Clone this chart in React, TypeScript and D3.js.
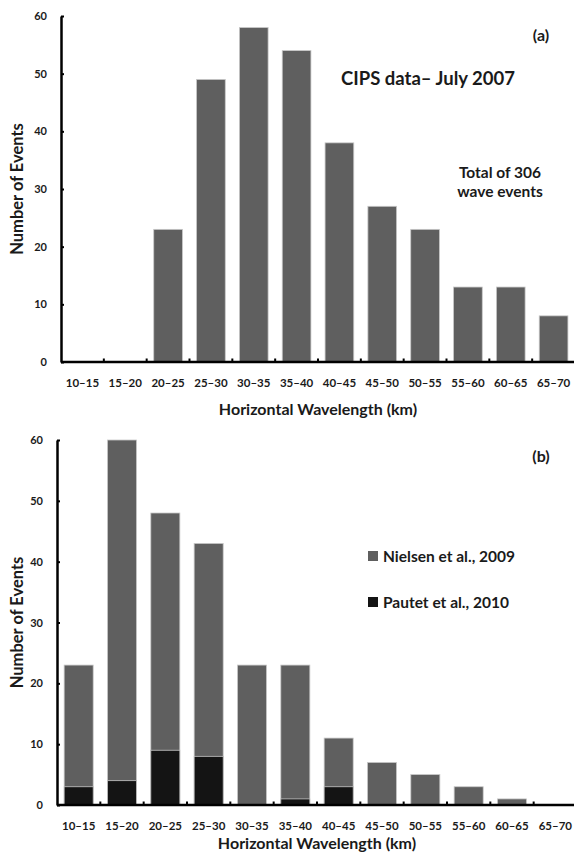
import { useEffect, useRef } from 'react';
import * as d3 from 'd3';

const categories = ['10–15', '15–20', '20–25', '25–30', '30–35', '35–40', '40–45', '45–50', '50–55', '55–60', '60–65', '65–70'];
const cipsEvents = [0, 0, 23, 49, 58, 54, 38, 27, 23, 13, 13, 8];
const nielsenEvents = [23, 60, 48, 43, 23, 23, 11, 7, 5, 3, 1, 0];
const pautetEvents = [3, 4, 9, 8, 0, 1, 3, 0, 0, 0, 0, 0];
const yTicks = [0, 10, 20, 30, 40, 50, 60];

const W = 574;
const H = 855;
const FONT = 'Lato, "Open Sans", sans-serif';
const GRAY = '#5f5f5f';
const BLACK = '#141414';
const INK = '#1a1a1a';

interface PanelOpts {
  left: number;
  right: number;
  top: number;
  bottom: number;
  titleOffset: number;
}

function drawPanel(
  svg: d3.Selection<SVGSVGElement, unknown, null, undefined>,
  p: PanelOpts,
  series: { values: number[]; color: string }[]
) {
  const g = svg.append('g');

  const x = d3.scaleBand<string>()
    .domain(categories)
    .range([p.left, p.right])
    .paddingInner(0.33)
    .paddingOuter(0.165);

  const y = d3.scaleLinear().domain([0, 60]).range([p.bottom, p.top]);

  // bars, later series drawn over the earlier one
  series.forEach(s => {
    g.append('g')
      .selectAll('rect')
      .data(s.values)
      .join('rect')
      .attr('x', (_, i) => x(categories[i])!)
      .attr('width', x.bandwidth())
      .attr('y', d => y(d))
      .attr('height', d => p.bottom - y(d))
      .attr('fill', s.color)
      .attr('stroke', d => (d > 0 ? '#c8c8c8' : 'none'))
      .attr('stroke-width', 0.8);
  });

  // y axis
  const yAxis = d3.axisLeft(y)
    .tickValues(yTicks)
    .tickSizeInner(-3)
    .tickSizeOuter(0)
    .tickPadding(14);

  const ya = g.append('g')
    .attr('transform', `translate(${p.left},0)`)
    .call(yAxis);
  ya.select('.domain').attr('stroke', '#000').attr('stroke-width', 2.5);
  ya.selectAll('.tick line').attr('stroke', '#000').attr('stroke-width', 2);
  ya.selectAll('.tick text')
    .attr('fill', INK)
    .style('font-family', FONT)
    .style('font-weight', 'bold')
    .style('font-size', '11px');

  // x axis line + ticks at bin edges
  g.append('line')
    .attr('x1', p.left)
    .attr('x2', p.right)
    .attr('y1', p.bottom)
    .attr('y2', p.bottom)
    .attr('stroke', '#000')
    .attr('stroke-width', 2.5);

  const step = x.step();
  g.append('g')
    .selectAll('line')
    .data(d3.range(1, categories.length + 1))
    .join('line')
    .attr('x1', i => p.left + i * step)
    .attr('x2', i => p.left + i * step)
    .attr('y1', p.bottom - 3.5)
    .attr('y2', p.bottom)
    .attr('stroke', '#000')
    .attr('stroke-width', 2);

  g.append('g')
    .selectAll('text')
    .data(categories)
    .join('text')
    .attr('x', d => x(d)! + x.bandwidth() / 2)
    .attr('y', p.bottom + 25)
    .attr('text-anchor', 'middle')
    .attr('fill', INK)
    .style('font-family', FONT)
    .style('font-weight', 'bold')
    .style('font-size', '11.5px')
    .text(d => d);

  g.append('text')
    .attr('x', (p.left + p.right) / 2)
    .attr('y', p.bottom + p.titleOffset)
    .attr('text-anchor', 'middle')
    .attr('fill', INK)
    .style('font-family', FONT)
    .style('font-weight', 'bold')
    .style('font-size', '16px')
    .text('Horizontal Wavelength (km)');

  g.append('text')
    .attr('transform', `translate(23,${(p.top + p.bottom) / 2}) rotate(-90)`)
    .attr('text-anchor', 'middle')
    .attr('fill', INK)
    .style('font-family', FONT)
    .style('font-weight', 'bold')
    .style('font-size', '16.5px')
    .text('Number of Events');

  return g;
}

export default function App() {
  const svgRef = useRef<SVGSVGElement>(null);

  useEffect(() => {
    if (!svgRef.current) return;
    const svg = d3.select(svgRef.current);
    svg.selectAll('*').remove();

    // (a) CIPS
    const a = drawPanel(svg, { left: 61, right: 575, top: 16, bottom: 362, titleOffset: 53 }, [
      { values: cipsEvents, color: GRAY }
    ]);
    a.append('text')
      .attr('x', 541).attr('y', 41)
      .attr('text-anchor', 'middle')
      .attr('fill', INK)
      .style('font-family', FONT).style('font-weight', 'bold').style('font-size', '16px')
      .text('(a)');
    a.append('text')
      .attr('x', 341).attr('y', 85)
      .attr('fill', INK)
      .style('font-family', FONT).style('font-weight', 'bold').style('font-size', '18.5px')
      .text('CIPS data– July 2007');
    a.append('text')
      .attr('x', 500).attr('y', 178)
      .attr('text-anchor', 'middle')
      .attr('fill', INK)
      .style('font-family', FONT).style('font-weight', 'bold').style('font-size', '15.5px')
      .text('Total of 306');
    a.append('text')
      .attr('x', 500).attr('y', 197)
      .attr('text-anchor', 'middle')
      .attr('fill', INK)
      .style('font-family', FONT).style('font-weight', 'bold').style('font-size', '15.5px')
      .text('wave events');

    // (b) Nielsen / Pautet
    const b = drawPanel(svg, { left: 57, right: 577, top: 440, bottom: 805, titleOffset: 44 }, [
      { values: nielsenEvents, color: GRAY },
      { values: pautetEvents, color: BLACK }
    ]);
    b.append('text')
      .attr('x', 541).attr('y', 462)
      .attr('text-anchor', 'middle')
      .attr('fill', INK)
      .style('font-family', FONT).style('font-weight', 'bold').style('font-size', '16px')
      .text('(b)');

    const legend = [
      { label: 'Nielsen et al., 2009', color: GRAY },
      { label: 'Pautet et al., 2010', color: BLACK }
    ];
    const lg = b.append('g')
      .selectAll('g')
      .data(legend)
      .join('g')
      .attr('transform', (_, i) => `translate(368,${556 + i * 46})`);
    lg.append('rect')
      .attr('x', 0).attr('y', -5)
      .attr('width', 10).attr('height', 10)
      .attr('fill', d => d.color);
    lg.append('text')
      .attr('x', 15).attr('y', 5.5)
      .attr('fill', INK)
      .style('font-family', FONT).style('font-weight', 'bold').style('font-size', '15.5px')
      .text(d => d.label);
  }, []);

  return (
    <div style={{ position: 'absolute', left: 0, top: 0, width: W, height: H, background: '#fff' }}>
      <svg ref={svgRef} width={W} height={H}></svg>
    </div>
  );
}
